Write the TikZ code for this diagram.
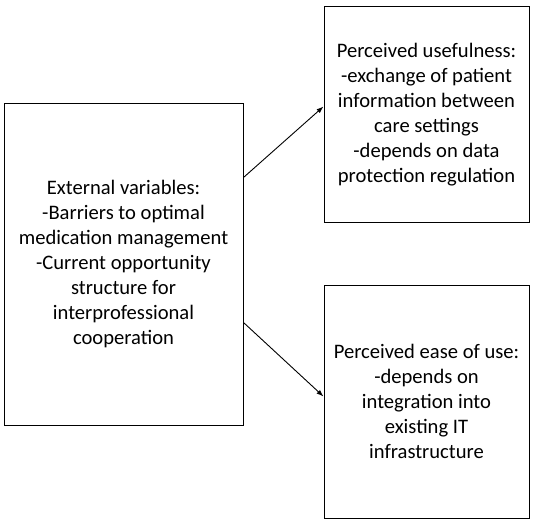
\documentclass[tikz,border=0pt]{standalone}
\usepackage{fontspec}
\setmainfont{Carlito}
\usetikzlibrary{arrows.meta}
\begin{document}
\begin{tikzpicture}[x=1pt, y=-1pt, font=\fontsize{20.6}{25}\selectfont,
  box/.style={rectangle, draw=black, line width=1pt, align=center, inner sep=0pt},
  link/.style={-{Latex[length=7pt, width=5pt]}, line width=0.9pt}]
\useasboundingbox (0,0) rectangle (536,527);
% the three boxes
\node[box, minimum width=239pt, minimum height=321pt] (ext) at (123.5,264.5)
  {External variables:\\-Barriers to optimal\\medication management\\-Current opportunity\\structure for\\interprofessional\\cooperation};
\node[box, minimum width=205pt, minimum height=215pt] (useful) at (426.5,114.5)
  {Perceived usefulness:\\-exchange of patient\\information between\\care settings\\-depends on data\\protection regulation};
\node[box, minimum width=205pt, minimum height=233pt] (ease) at (426.5,401.5)
  {Perceived ease of use:\\-depends on\\integration into\\existing IT\\infrastructure};
% arrows
\draw[link] ([yshift=87pt]ext.east) -- ([yshift=8pt]useful.west);
\draw[link] ([yshift=-58pt]ext.east) -- ([yshift=5pt]ease.west);
\end{tikzpicture}
\end{document}
